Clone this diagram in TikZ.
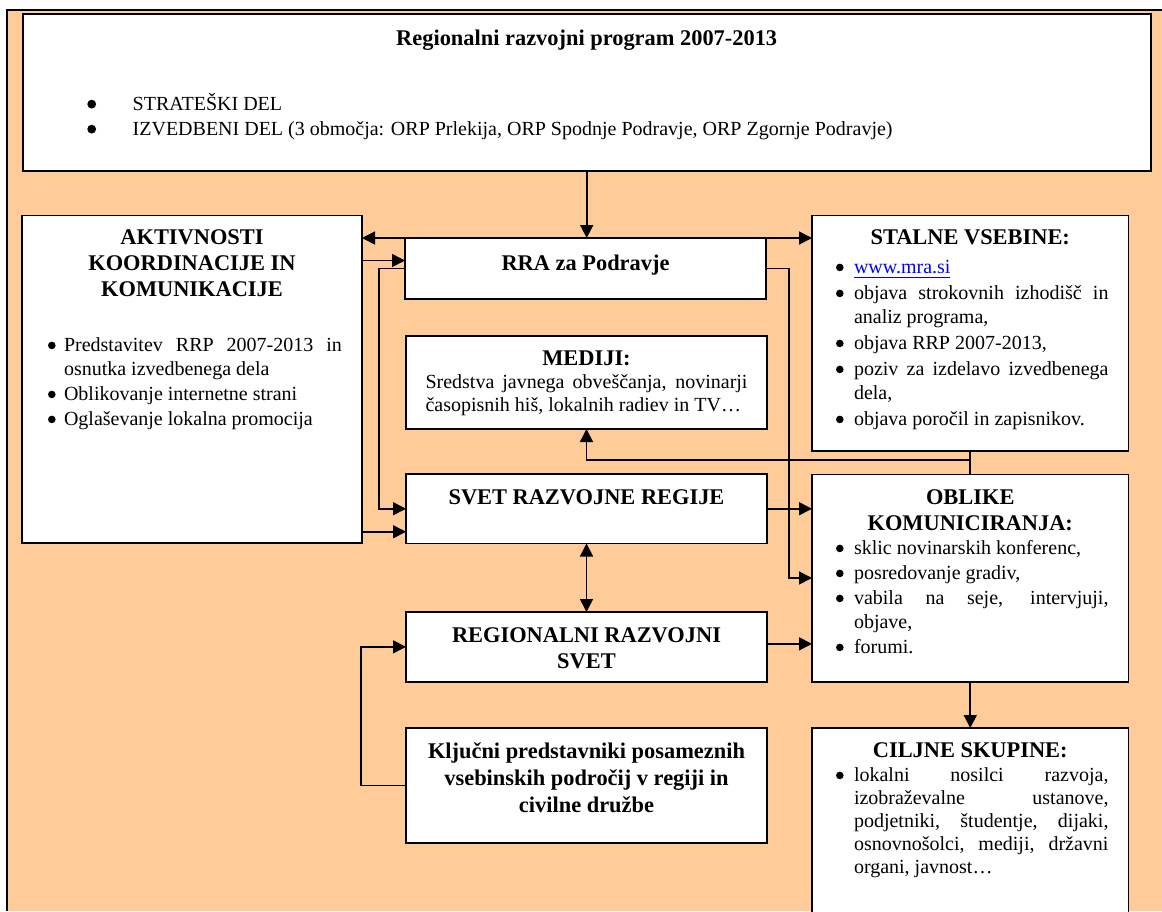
\documentclass[tikz,border=0pt]{standalone}
\usepackage{fontspec}
\setmainfont{Liberation Serif}
\usetikzlibrary{arrows.meta,calc}

\definecolor{peach}{RGB}{255,204,153}
\definecolor{linkblue}{RGB}{0,0,255}

\tikzset{
  rrp/.style={
    x=0.5pt, y=-0.5pt,
    box/.style={
        draw=black,
        fill=white,
        line width=0.8pt,
        anchor=north west,
        inner xsep=10pt,
        inner ysep=0pt,
        outer sep=0pt,
    },
    arr/.style={
        line width=0.8pt,
        -{Triangle[length=6.5pt,width=6.5pt]},
    },
    dbl/.style={
        line width=0.8pt,
        {Triangle[length=6.5pt,width=6.5pt]}-{Triangle[length=6.5pt,width=6.5pt]},
    },
    link/.style={line width=0.8pt},
  }
}

\newcommand{\boxbody}[3]{%
    \parbox[c][#2][t]{#1}{\parskip=0pt\tolerance=10000\hyphenpenalty=10000\exhyphenpenalty=10000
        \fontsize{10}{12}\selectfont#3}%
}
\newcommand{\boxtitle}[2][13pt]{{\centering\fontsize{11.2}{#1}\selectfont\bfseries#2\par}}
\newcommand{\dotmark}[2][3.2pt]{\tikz[baseline=0pt]\fill[black] (0,#1) circle (#2);}
\newenvironment{bullets}[4][0.5pt]{%
    \begin{list}{\dotmark{#4}}{%
        \setlength{\leftmargin}{#2}\setlength{\labelsep}{#3}%
        \setlength{\labelwidth}{5pt}\setlength{\itemindent}{0pt}%
        \setlength{\itemsep}{#1}\setlength{\parsep}{0pt}%
        \setlength{\topsep}{0pt}\setlength{\partopsep}{0pt}%
        \setlength{\rightmargin}{0pt}}%
}{\end{list}}

\begin{document}
\begin{tikzpicture}[rrp]
    \useasboundingbox (0,0) rectangle (1162,911);
    \clip (0,0) rectangle (1162,911);
    \fill[white] (0,0) rectangle (1162,911);
    \fill[peach] (7.3,10) rectangle (1162,911);
    \draw[line width=1pt] (7.3,911) -- (7.3,10) -- (1162,10);

    \node[box] (prog) at (22.7,14) {\boxbody{544pt}{78.5pt}{\vspace*{8pt}%
        \boxtitle{Regionalni razvojni program 2007-2013}\vspace{20.5pt}
        \begin{bullets}{45pt}{18.3pt}{2.2pt}
            \item STRATEŠKI DEL
            \item IZVEDBENI DEL (3 območja: ORP Prlekija, ORP Spodnje Podravje, ORP Zgornje Podravje)
        \end{bullets}}};

    \node[box] (aktiv) at (22,215.5) {\boxbody{150pt}{163.75pt}{\vspace*{7.25pt}%
        \boxtitle{AKTIVNOSTI\\KOORDINACIJE IN\\KOMUNIKACIJE}\vspace{15.5pt}
        \begin{bullets}{11pt}{4.2pt}{1.9pt}
            \item Predstavitev RRP 2007-2013 in\linebreak osnutka izvedbenega dela
            \item Oblikovanje internetne strani
            \item Oglaševanje lokalna promocija
        \end{bullets}}};

    \node[box] (rra) at (405,238) {\boxbody{160.5pt}{30.5pt}{\vspace*{8.5pt}%
        \boxtitle{RRA za Podravje}}};

    \node[box, inner xsep=9.75pt] (mediji) at (406,336) {\boxbody{161pt}{46.5pt}{\vspace*{7.5pt}%
        \boxtitle{MEDIJI:}\fontsize{10}{11.5}\selectfont
        Sredstva javnega obveščanja, novinarji\linebreak časopisnih hiš, lokalnih radiev in TV…}};

    \node[box] (svet) at (406,474) {\boxbody{160.5pt}{34.75pt}{\vspace*{8pt}%
        \boxtitle{SVET RAZVOJNE REGIJE}}};

    \node[box] (regsvet) at (406,612) {\boxbody{160.5pt}{34.85pt}{\vspace*{8pt}%
        \boxtitle{REGIONALNI RAZVOJNI\\SVET}}};

    \node[box, inner xsep=8pt] (kljucni) at (406,728) {\boxbody{164.5pt}{57.5pt}{\vspace*{7.5pt}%
        \boxtitle[13.5pt]{Ključni predstavniki posameznih\\vsebinskih področij v regiji in\\civilne družbe}}};

    \node[box] (stalne) at (812,215.5) {\boxbody{138.25pt}{117.75pt}{\vspace*{7.25pt}%
        \boxtitle{STALNE VSEBINE:}\vspace{2.5pt}
        \begin{bullets}[1pt]{11pt}{5.2pt}{1.9pt}
            \item \textcolor{linkblue}{\underline{www.mra.si}}
            \item objava strokovnih izhodišč in\linebreak analiz programa,
            \item objava RRP 2007-2013,
            \item poziv za izdelavo izvedbenega\linebreak dela,
            \item objava poročil in zapisnikov.
        \end{bullets}}};

    \node[box] (oblike) at (812,474.3) {\boxbody{138.25pt}{103.7pt}{\vspace*{7.85pt}%
        \boxtitle{OBLIKE\\KOMUNICIRANJA:}
        \begin{bullets}{11pt}{5.2pt}{1.9pt}
            \item sklic novinarskih konferenc,
            \item posredovanje gradiv,
            \item vabila na seje, intervjuji,\linebreak objave,
            \item forumi.
        \end{bullets}}};

    \node[box] (ciljne) at (812,728) {\boxbody{138.25pt}{96.5pt}{\vspace*{7.5pt}%
        \boxtitle{CILJNE SKUPINE:}\vspace{0.5pt}\fontsize{10}{11.5}\selectfont
        \begin{bullets}{11pt}{5.2pt}{1.9pt}
            \item lokalni nosilci razvoja,\linebreak izobraževalne ustanove,\linebreak
            podjetniki, študentje, dijaki,\linebreak osnovnošolci, mediji, državni\linebreak
            organi, javnost…
        \end{bullets}}};

    \coordinate (aktivin) at ([yshift=4pt]rra.west);
    \coordinate (aktivout) at ([yshift=-11.5pt]svet.west);
    \coordinate (regout) at ([yshift=1.5pt]regsvet.east);
    \coordinate (split) at ($(stalne.south)+(0,9)$);

    \draw[arr] (prog.south) -- (prog.south |- rra.north);
    \draw[arr] (rra.north west) -- (rra.north west -| aktiv.east);
    \draw[arr] (rra.north east) -- (rra.north east -| stalne.west);
    \draw[arr] (aktivin -| aktiv.east) -- (aktivin);
    \draw[arr] (rra.west) -- ++(-26,0) |- (svet.west);
    \draw[arr] (aktivout -| aktiv.east) -- (aktivout);
    \draw[arr] (rra.east) -- ++(23,0) |- (oblike.west);
    \draw[arr] (svet.east) -- (svet.east -| oblike.west);
    \draw[arr] (regout) -- (regout -| oblike.west);
    \draw[dbl] (svet.south) -- (regsvet.north);
    \draw[arr] (kljucni.west) -- ++(-45,0) |- (regsvet.west);
    \draw[link] (stalne.south) -- (oblike.north);
    \draw[arr] (split) -| (mediji.south);
    \draw[arr] (oblike.south) -- (ciljne.north);
\end{tikzpicture}
\end{document}
